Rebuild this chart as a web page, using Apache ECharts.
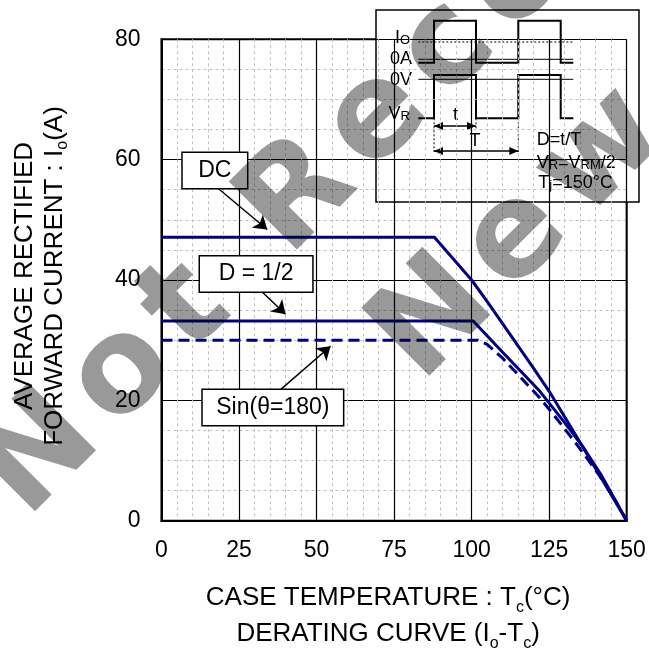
<!DOCTYPE html>
<html><head><meta charset="utf-8">
<script src="https://cdn.jsdelivr.net/npm/echarts@6/dist/echarts.min.js"></script>
<style>html,body{margin:0;padding:0;background:#fff}#c{width:649px;height:654px}</style>
</head><body><div id="c"></div>
<script>
// ---- data (case temperature Tc in °C, average rectified forward current Io in A) ----
const dcTemp      = [0, 88, 100, 106, 113, 120, 125, 131, 138, 144, 150];
const dcCurrent   = [47.1, 47.1, 40, 35.7, 30.5, 25.3, 21.5, 16.4, 10.4, 5.2, 0];
const halfTemp    = [0, 100.5, 110, 122, 130, 136, 142, 150];
const halfCurrent = [33.2, 33.2, 28, 21.5, 16.3, 12.2, 7.4, 0];
const sinTemp     = [0, 102, 105, 110, 116, 122, 128, 134, 140, 145, 150];
const sinCurrent  = [30, 30, 29.3, 27, 23.7, 20.4, 16.6, 12.6, 8.4, 4.6, 0];

// ---- callout labels (data coordinates) ----
const calloutText   = ['DC', 'D = 1/2', 'Sin(θ=180)'];
const calloutBoxT   = [17.2, 30.5, 35.9];
const calloutBoxI   = [58.2, 41.0, 18.8];
const calloutPad    = [15.5, 18.7, 13.5];
const arrowFromT    = [18.3, 32.3, 38.2];
const arrowFromI    = [55.2, 38.1, 21.7];
const arrowToT      = [34.1, 40.0, 54.5];
const arrowToI      = [48.4, 34.3, 29.0];

// ---- watermark text ----
const watermarkLines = ['Not Recommended for', 'New Designs'];

const FONT = '"Liberation Sans", Arial, sans-serif';
const NAVY = '#000080';

const zip = (a, b) => a.map((v, i) => [v, b[i]]);

function callout(i) {
  return {
    markPoint: {
      silent: true, animation: false,
      symbol: 'rect', symbolSize: 1, itemStyle: { color: 'rgba(0,0,0,0)' },
      data: [{ coord: [calloutBoxT[i], calloutBoxI[i]], value: calloutText[i] }],
      label: {
        show: true, position: 'inside', formatter: calloutText[i],
        fontSize: 23, fontFamily: FONT, color: '#000',
        backgroundColor: '#fff', borderColor: '#000', borderWidth: 1.5,
        padding: [6, calloutPad[i]]
      }
    },
    markLine: {
      silent: true, animation: false,
      symbol: ['none', 'arrow'], symbolSize: 13,
      label: { show: false },
      lineStyle: { color: '#000', width: 1.5, type: 'solid' },
      data: [[{ coord: [arrowFromT[i], arrowFromI[i]] }, { coord: [arrowToT[i], arrowToI[i]] }]]
    }
  };
}

const subRich = { s: { fontSize: 16, fontFamily: FONT, verticalAlign: 'bottom', color: '#000' } };

// ---- inset waveform diagram (relative to the inset box) ----
const insetX = 376, insetY = 10;
const ln = (x1, y1, x2, y2, w, dash) => ({ type: 'line', shape: { x1, y1, x2, y2 }, style: { stroke: '#000', lineWidth: w, lineDash: dash || null } });
const head = (x, y, dir) => ({ type: 'polygon', shape: { points: [[x, y], [x - dir * 9, y - 4], [x - dir * 9, y + 4]] }, style: { fill: '#000' } });
const itxt = (text, x, y, align) => ({
  type: 'text', x, y,
  style: { text, rich: { s: { fontSize: 13, fontFamily: FONT, verticalAlign: 'bottom', fill: '#000' } },
    fontSize: 18, fontFamily: FONT, fill: '#000', align: align || 'left', verticalAlign: 'middle',
    textAlign: align || 'left', textVerticalAlign: 'middle' }
});
const insetChildren = [
  { type: 'rect', shape: { x: 0, y: 0, width: 263, height: 192 }, style: { fill: '#fff', stroke: '#000', lineWidth: 1.5 } },
  ln(42.3, 32, 197.3, 32, 1, [2, 2]),
  ln(42.3, 49.3, 197.3, 49.3, 1),
  ln(42.3, 69.3, 197.3, 69.3, 1),
  { type: 'polyline', shape: { points: [[42.3,52.7],[58,52.7],[58,10.7],[100,10.7],[100,52.7],[142.3,52.7],[142.3,10.7],[184.7,10.7],[184.7,52.7],[197.3,52.7]] }, style: { stroke: '#000', lineWidth: 2, fill: null } },
  { type: 'polyline', shape: { points: [[42.3,108.3],[58,108.3],[58,65],[100,65],[100,108.3],[142.3,108.3],[142.3,65],[184.7,65],[184.7,108.3],[197.3,108.3]] }, style: { stroke: '#000', lineWidth: 2, fill: null } },
  ln(58, 108.3, 58, 142, 1, [2, 2]),
  ln(100, 108.3, 100, 119, 1, [2, 2]),
  ln(142.3, 108.3, 142.3, 142, 1, [2, 2]),
  ln(58, 116, 100, 116, 1.5), head(58, 116, -1), head(100, 116, 1),
  ln(58, 141, 142.3, 141, 1.5), head(58, 141, -1), head(142.3, 141, 1),
  itxt('I{s|O}', 34, 28, 'right'),
  itxt('0A', 36, 49.5, 'right'),
  itxt('0V', 36, 70, 'right'),
  itxt('V{s|R}', 34, 104, 'right'),
  itxt('t', 79.5, 105.5, 'center'),
  itxt('T', 99, 131.5, 'center'),
  itxt('D=t/T', 160.7, 130),
  itxt('V{s|R}=V{s|RM}/2', 160.7, 152.7),
  itxt('T{s|j}=150°C', 162.3, 172.7)
];

// ---- watermark: characters laid out along a 45° line with letter spacing ----
const WM_FONT = 'bold 132px "DejaVu Sans"';
const WM_SPACING = 15;
const mctx = document.createElement('canvas').getContext('2d');
mctx.font = WM_FONT;
function watermarkLine(text, uStart, v) {
  const out = [];
  let u = uStart;
  for (const ch of text) {
    const w = mctx.measureText(ch).width;
    if (ch !== ' ') {
      out.push({ type: 'text', x: (u + v) / Math.SQRT2, y: (v - u) / Math.SQRT2, rotation: Math.PI / 4,
        z: 200, silent: true,
        style: { text: ch, font: WM_FONT, fill: 'rgba(0,0,0,0.4)', align: 'left', verticalAlign: 'middle',
          textAlign: 'left', textVerticalAlign: 'middle' } });
    }
    u += w + WM_SPACING;
  }
  return out;
}
const wN = mctx.measureText('N').width, wo = mctx.measureText('o').width, we = mctx.measureText('e').width;
const line1Start = -178 - (wN + WM_SPACING + wo / 2);
const line2Start = 196 - (wN + WM_SPACING + we / 2);

const chart = echarts.init(document.getElementById('c'), null, { renderer: 'canvas' });
chart.setOption({
  animation: false,
  backgroundColor: '#fff',
  grid: { left: 161.5, right: 22.3, top: 39.3, bottom: 133.3, containLabel: false, outerBoundsMode: 'none',
    show: true, borderColor: '#000', borderWidth: 2, backgroundColor: 'rgba(0,0,0,0)' },
  xAxis: {
    type: 'value', min: 0, max: 150, interval: 25,
    axisLine: { show: true, lineStyle: { color: '#000', width: 2 } },
    axisTick: { show: false },
    axisLabel: { fontSize: 23, fontFamily: FONT, color: '#000', margin: 18 },
    splitLine: { show: true, lineStyle: { color: '#000', width: 1.2 } },
    minorTick: { show: false, splitNumber: 5 },
    minorSplitLine: { show: true, lineStyle: { color: '#c0c0c0', width: 1, type: [3, 3] } },
    name: 'CASE TEMPERATURE : T{s|c}(°C)\nDERATING CURVE (I{s|o}-T{s|c})',
    nameLocation: 'middle', nameGap: 59,
    nameTextStyle: { fontSize: 26, fontFamily: FONT, color: '#000', lineHeight: 36, padding: [0, 12, 0, 0], rich: subRich }
  },
  yAxis: {
    type: 'value', min: 0, max: 80, interval: 20,
    axisLine: { show: true, lineStyle: { color: '#000', width: 2 } },
    axisTick: { show: false },
    axisLabel: { fontSize: 23, fontFamily: FONT, color: '#000', margin: 21 },
    splitLine: { show: true, lineStyle: { color: '#000', width: 1.2 } },
    minorTick: { show: false, splitNumber: 4 },
    minorSplitLine: { show: true, lineStyle: { color: '#c0c0c0', width: 1, type: [3, 3] } },
    name: 'AVERAGE RECTIFIED\nFORWARD CURRENT : I{s|o}(A)',
    nameLocation: 'middle', nameGap: 91, nameRotate: 90,
    nameTextStyle: { fontSize: 26, fontFamily: FONT, color: '#000', lineHeight: 30.5, padding: [0, 0, 0, 8], rich: subRich }
  },
  series: [
    Object.assign({ name: 'DC', type: 'line', data: zip(dcTemp, dcCurrent), showSymbol: false, symbol: 'none',
      lineStyle: { color: NAVY, width: 3 }, z: 3 }, callout(0)),
    Object.assign({ name: 'D = 1/2', type: 'line', data: zip(halfTemp, halfCurrent), showSymbol: false, symbol: 'none',
      lineStyle: { color: NAVY, width: 3 }, z: 3 }, callout(1)),
    Object.assign({ name: 'Sin(θ=180)', type: 'line', data: zip(sinTemp, sinCurrent), showSymbol: false, symbol: 'none',
      lineStyle: { color: NAVY, width: 3, type: [11, 6] }, z: 3 }, callout(2))
  ],
  graphic: [
    { type: 'group', x: insetX, y: insetY, z: 100, children: insetChildren }
  ].concat(watermarkLine(watermarkLines[0], line1Start, 352), watermarkLine(watermarkLines[1], line2Start, 535))
});
</script></body></html>
